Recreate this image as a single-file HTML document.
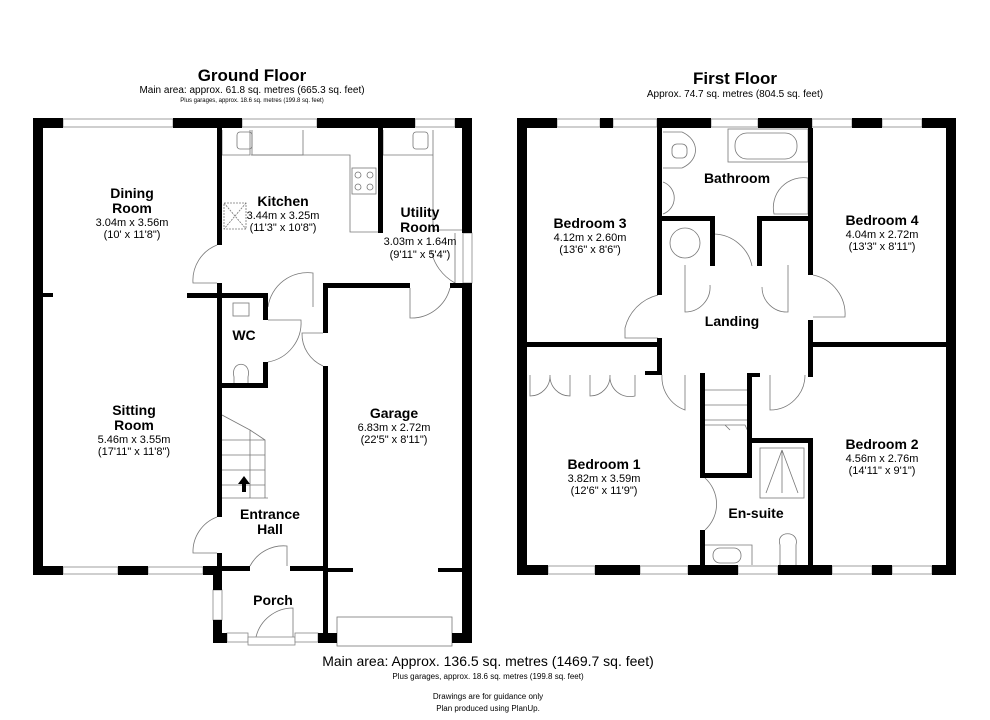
<!DOCTYPE html>
<html><head><meta charset="utf-8"><style>
html,body{margin:0;padding:0;background:#fff;width:990px;height:720px;overflow:hidden}
svg{display:block}
text{font-family:"Liberation Sans",Arial,sans-serif;fill:#000}
.b{font-weight:bold}
</style></head><body>
<svg width="990" height="720" viewBox="0 0 990 720" xmlns="http://www.w3.org/2000/svg">
<g text-anchor="middle">
<text x="252" y="81" font-size="17" class="b">Ground Floor</text>
<text x="252" y="93" font-size="10">Main area: approx. 61.8 sq. metres (665.3 sq. feet)</text>
<text x="252" y="102" font-size="6">Plus garages, approx. 18.6 sq. metres (199.8 sq. feet)</text>
<text x="735" y="84" font-size="17" class="b">First Floor</text>
<text x="735" y="97" font-size="10">Approx. 74.7 sq. metres (804.5 sq. feet)</text>
<text x="488" y="666" font-size="14">Main area: Approx. 136.5 sq. metres (1469.7 sq. feet)</text>
<text x="488" y="679" font-size="8">Plus garages, approx. 18.6 sq. metres (199.8 sq. feet)</text>
<text x="488" y="699" font-size="8">Drawings are for guidance only</text>
<text x="488" y="711" font-size="8">Plan produced using PlanUp.</text>
</g>

<!-- fixtures / thin lines -->
<g fill="none" stroke="#777" stroke-width="0.8">
<!-- ground kitchen units -->
<path d="M222 130 V155 H250 V130 M252 130 V155 H303 V130"/>
<path d="M251 155 H350 V232 H378"/><rect x="352" y="168" width="24" height="26"/>
<circle cx="358" cy="175" r="3"/><circle cx="370" cy="175" r="3"/><circle cx="358" cy="187" r="3"/><circle cx="370" cy="187" r="3"/>
<rect x="224" y="203" width="22" height="26" stroke-dasharray="2,1"/><path d="M224 203 L246 229 M246 203 L224 229" stroke-dasharray="2,1"/>
<rect x="237" y="132" width="15" height="17" rx="3"/>
<path d="M383 130 V155 H433 V130 M383 155 V155 M433 155 V230 H462"/><rect x="413" y="132" width="15" height="17" rx="3"/>
<rect x="233" y="303" width="16" height="13"/>
<path d="M234 388 V377 C230 360 252 360 248 377 V388"/>
<!-- stairs ground -->
<path d="M222 415 L250 430 V498 H268 M222 440 H265 M222 455 H265 M222 470 H265 M222 485 H265 M250 430 L265 440 V498 H222"/>
<!-- door arcs ground -->
<path d="M217 245 A38 38 0 0 0 193 283 H217"/>
<path d="M268 307 A40 40 0 0 1 313 273 V307"/>
<path d="M268 320 H301 A40 40 0 0 1 268 362"/>
<path d="M323 366 A35 35 0 0 1 302 333 H323"/>
<path d="M410 288 V318 A40 40 0 0 0 450 288"/>
<path d="M455 233 V283 A48 48 0 0 1 431 250"/>
<path d="M217 517 A37 37 0 0 0 193 553 H217"/>
<path d="M250 566 A38 38 0 0 1 287 546 V566"/>
<path d="M256 637 A38 38 0 0 1 293 608 V637"/>
<rect x="337" y="617" width="115" height="29" fill="#fff"/>
<rect x="214" y="590" width="6" height="30" fill="#fff"/>
<!-- first floor fixtures -->
<rect x="728" y="129" width="80" height="33"/><rect x="735" y="133" width="62" height="26" rx="12"/>
<path d="M663 132 H682 C700 140 700 160 682 168 H663"/><rect x="672" y="144" width="15" height="14" rx="5"/>
<path d="M663 182 A17 17 0 0 1 663 214"/>
<path d="M808 178 A30 30 0 0 0 774 214 H808 Z"/>
<circle cx="685" cy="243" r="15"/>
<path d="M710 285 A25 25 0 0 1 685 312 V265"/>
<path d="M762 287 A25 25 0 0 0 788 312 V265"/>
<path d="M714 234 A40 40 0 0 1 752 266"/>
<path d="M813 275 A40 40 0 0 1 845 317 H813"/>
<path d="M658 295 A45 45 0 0 0 625 328 V338 H658"/>
<path d="M530 375 V396 A20 20 0 0 0 550 375 M550 375 A20 20 0 0 0 570 396 V375 M590 375 V396 A20 20 0 0 0 610 375 M610 375 A20 20 0 0 0 635 396 V375"/>
<path d="M662 375 A35 35 0 0 0 685 410 V375"/>
<path d="M770 375 V410 A35 35 0 0 0 805 375"/>
<path d="M705 425 H745 L752 440 M705 390 H747 M705 405 H747 M705 420 H747 M725 425 L730 430"/>
<path d="M705 478 A35 35 0 0 1 705 530"/>
<rect x="760" y="448" width="44" height="50"/><path d="M782 450 L766 493 M782 450 L798 493 M782 450 V493"/>
<path d="M705 545 H752 V565"/><rect x="713" y="548" width="28" height="15" rx="7"/>
<path d="M780 565 V545 C775 530 800 530 796 545 V565"/>
</g>

<!-- windows -->
<g fill="#fff" stroke="#888" stroke-width="0.8">
<rect x="63" y="119" width="110" height="8"/><rect x="242" y="119" width="75" height="8"/><rect x="415" y="119" width="40" height="8"/>
<rect x="63" y="567" width="55" height="7"/><rect x="148" y="567" width="55" height="7"/>
<rect x="227" y="633" width="21" height="9"/><rect x="248" y="637" width="47" height="8"/><rect x="295" y="633" width="23" height="9"/>
<rect x="213" y="590" width="9" height="30"/><rect x="463" y="233" width="9" height="50"/>
<rect x="557" y="119" width="43" height="8"/><rect x="613" y="119" width="44" height="8"/><rect x="711" y="119" width="47" height="8"/><rect x="812" y="119" width="40" height="8"/><rect x="882" y="119" width="40" height="8"/>
<rect x="548" y="566" width="47" height="8"/><rect x="640" y="566" width="48" height="8"/><rect x="738" y="566" width="40" height="8"/><rect x="832" y="566" width="40" height="8"/><rect x="892" y="566" width="40" height="8"/>
</g>

<!-- walls -->
<g fill="#000">
<!-- ground outer -->
<rect x="33" y="118" width="10" height="457"/>
<rect x="33" y="118" width="30" height="10"/><rect x="173" y="118" width="69" height="10"/><rect x="317" y="118" width="98" height="10"/><rect x="455" y="118" width="17" height="10"/>
<rect x="462" y="118" width="10" height="115"/><rect x="462" y="283" width="10" height="360"/>
<rect x="33" y="566" width="30" height="9"/><rect x="118" y="566" width="30" height="9"/><rect x="203" y="566" width="19" height="9"/>
<rect x="213" y="566" width="9" height="24"/><rect x="213" y="620" width="9" height="23"/>
<rect x="213" y="633" width="14" height="10"/><rect x="318" y="633" width="19" height="10"/><rect x="452" y="633" width="20" height="10"/>
<!-- ground inner -->
<rect x="217" y="128" width="5" height="117"/><rect x="217" y="283" width="5" height="234"/><rect x="217" y="553" width="5" height="20"/>
<rect x="187" y="293" width="81" height="5"/><rect x="43" y="293" width="10" height="4"/>
<rect x="263" y="293" width="5" height="27"/><rect x="263" y="362" width="5" height="26"/><rect x="222" y="383" width="46" height="5"/>
<rect x="378" y="128" width="5" height="105"/>
<rect x="323" y="283" width="87" height="5"/><rect x="450" y="283" width="22" height="5"/>
<rect x="323" y="283" width="5" height="50"/><rect x="323" y="366" width="5" height="277"/>
<rect x="222" y="566" width="28" height="5"/><rect x="290" y="566" width="33" height="5"/>
<rect x="328" y="568" width="25" height="4"/><rect x="438" y="568" width="24" height="4"/>
<rect x="322" y="633" width="15" height="10"/>
<!-- first outer -->
<rect x="517" y="118" width="10" height="457"/><rect x="946" y="118" width="10" height="457"/>
<rect x="517" y="118" width="40" height="10"/><rect x="600" y="118" width="13" height="10"/><rect x="657" y="118" width="54" height="10"/><rect x="758" y="118" width="54" height="10"/><rect x="852" y="118" width="30" height="10"/><rect x="922" y="118" width="34" height="10"/>
<rect x="517" y="565" width="31" height="10"/><rect x="595" y="565" width="45" height="10"/><rect x="688" y="565" width="50" height="10"/><rect x="778" y="565" width="54" height="10"/><rect x="872" y="565" width="20" height="10"/><rect x="932" y="565" width="24" height="10"/>
<!-- first inner -->
<rect x="657" y="128" width="5" height="167"/><rect x="657" y="338" width="5" height="37"/>
<rect x="657" y="216" width="58" height="5"/><rect x="710" y="216" width="5" height="50"/>
<rect x="757" y="216" width="56" height="5"/><rect x="757" y="216" width="5" height="50"/>
<rect x="808" y="128" width="5" height="147"/><rect x="808" y="320" width="5" height="57"/>
<rect x="527" y="342" width="135" height="5"/><rect x="645" y="371" width="17" height="4"/>
<rect x="813" y="342" width="133" height="5"/>
<rect x="700" y="373" width="5" height="105"/><rect x="700" y="473" width="52" height="5"/><rect x="747" y="373" width="5" height="105"/><rect x="747" y="373" width="13" height="4"/>
<rect x="747" y="438" width="66" height="5"/><rect x="808" y="438" width="5" height="130"/>
<rect x="700" y="530" width="5" height="38"/>
</g>

<!-- labels -->
<g text-anchor="middle">
<text x="132" y="198" font-size="14" class="b">Dining</text><text x="132" y="213" font-size="14" class="b">Room</text>
<text x="132" y="226" font-size="11">3.04m x 3.56m</text><text x="132" y="238" font-size="11">(10' x 11'8")</text>
<text x="283" y="206" font-size="14" class="b">Kitchen</text>
<text x="283" y="219" font-size="11">3.44m x 3.25m</text><text x="283" y="231" font-size="11">(11'3" x 10'8")</text>
<text x="420" y="217" font-size="14" class="b">Utility</text><text x="420" y="232" font-size="14" class="b">Room</text>
<text x="420" y="245" font-size="11">3.03m x 1.64m</text><text x="420" y="258" font-size="11">(9'11" x 5'4")</text>
<text x="244" y="340" font-size="14" class="b">WC</text>
<text x="134" y="415" font-size="14" class="b">Sitting</text><text x="134" y="430" font-size="14" class="b">Room</text>
<text x="134" y="443" font-size="11">5.46m x 3.55m</text><text x="134" y="455" font-size="11">(17'11" x 11'8")</text>
<text x="394" y="418" font-size="14" class="b">Garage</text>
<text x="394" y="431" font-size="11">6.83m x 2.72m</text><text x="394" y="443" font-size="11">(22'5" x 8'11")</text>
<text x="270" y="519" font-size="14" class="b">Entrance</text><text x="270" y="534" font-size="14" class="b">Hall</text>
<text x="273" y="605" font-size="14" class="b">Porch</text>
<text x="737" y="183" font-size="14" class="b">Bathroom</text>
<text x="590" y="228" font-size="14" class="b">Bedroom 3</text>
<text x="590" y="241" font-size="11">4.12m x 2.60m</text><text x="590" y="253" font-size="11">(13'6" x 8'6")</text>
<text x="882" y="225" font-size="14" class="b">Bedroom 4</text>
<text x="882" y="238" font-size="11">4.04m x 2.72m</text><text x="882" y="250" font-size="11">(13'3" x 8'11")</text>
<text x="732" y="326" font-size="14" class="b">Landing</text>
<text x="604" y="469" font-size="14" class="b">Bedroom 1</text>
<text x="604" y="482" font-size="11">3.82m x 3.59m</text><text x="604" y="494" font-size="11">(12'6" x 11'9")</text>
<text x="882" y="449" font-size="14" class="b">Bedroom 2</text>
<text x="882" y="462" font-size="11">4.56m x 2.76m</text><text x="882" y="474" font-size="11">(14'11" x 9'1")</text>
<text x="756" y="518" font-size="14" class="b">En-suite</text>
</g>
<path d="M244 476 L238 484 H242 V492 H246 V484 H250 Z" fill="#000"/>
</svg>
</body></html>
